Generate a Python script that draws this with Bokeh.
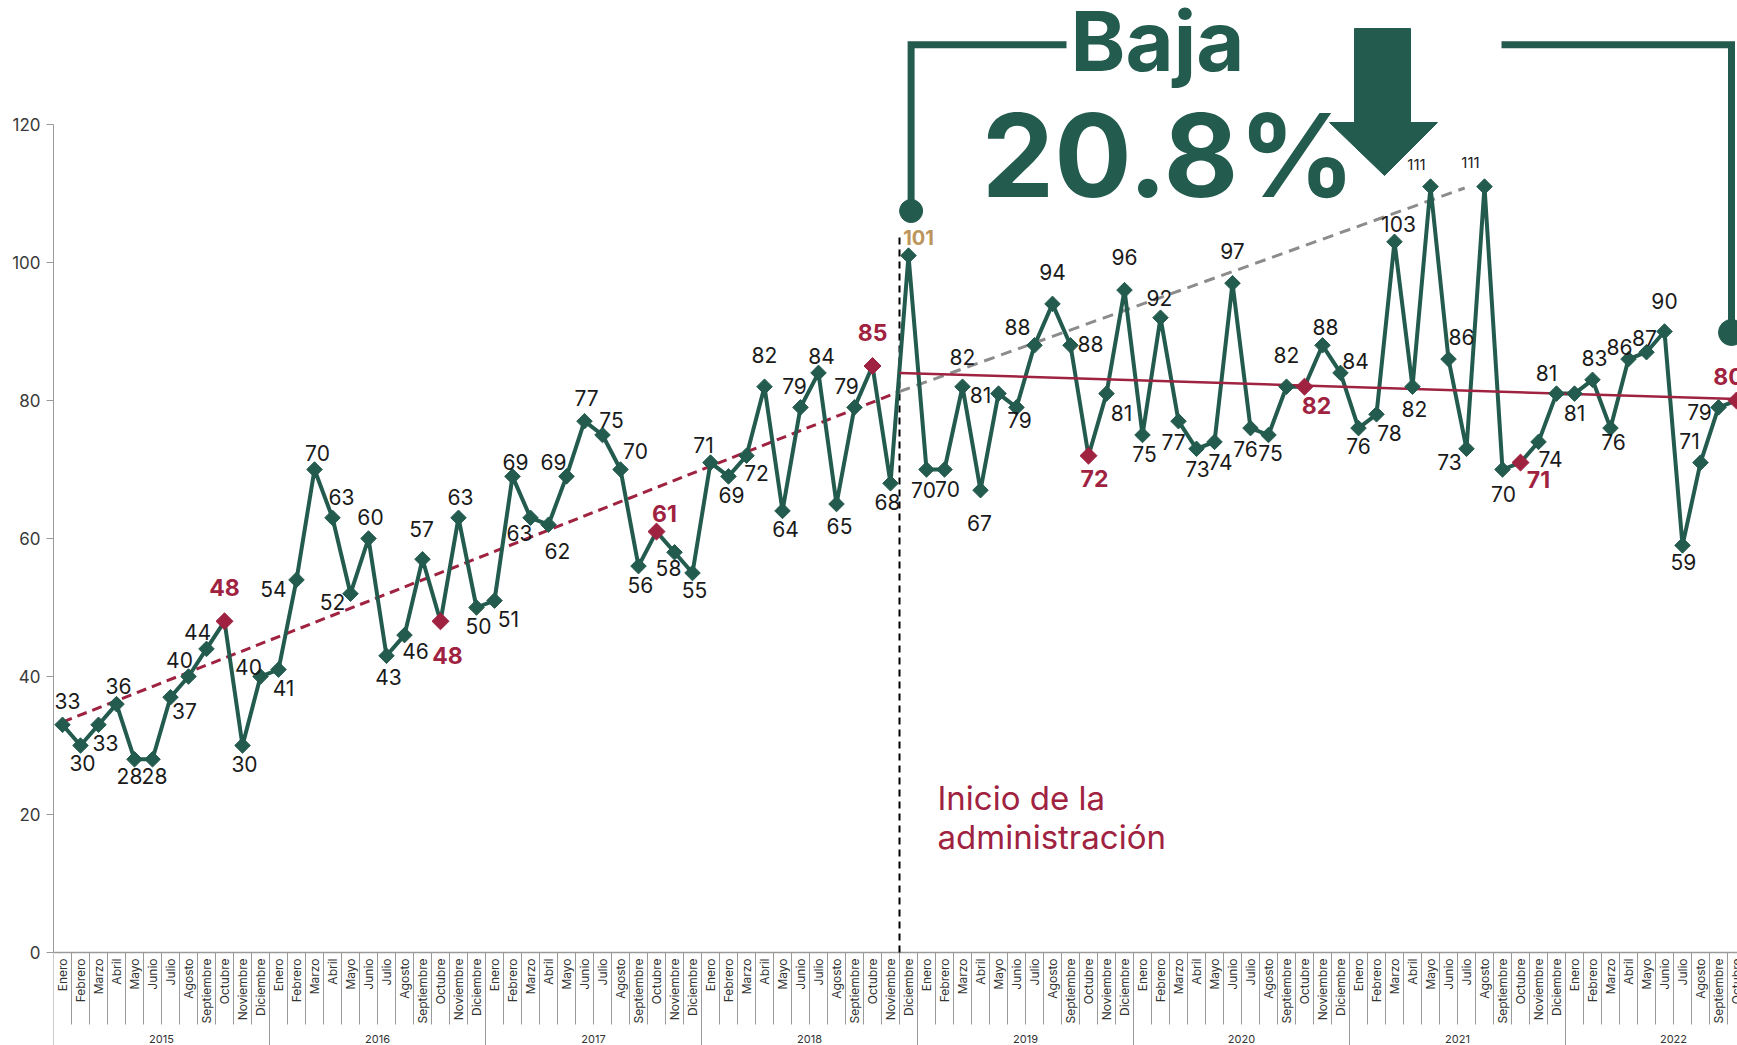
import math
from bokeh.plotting import figure
from bokeh.models import Range1d, FixedTicker
from bokeh.embed import file_html
from bokeh.resources import INLINE
from bokeh.core.properties import value

# ---------------- data ----------------
YEARS = ["2015", "2016", "2017", "2018", "2019", "2020", "2021", "2022"]
MONTHS = ["Enero", "Febrero", "Marzo", "Abril", "Mayo", "Junio", "Julio",
          "Agosto", "Septiembre", "Octubre", "Noviembre", "Diciembre"]

VALUES_2015 = [33, 30, 33, 36, 28, 28, 37, 40, 44, 48, 30, 40]
VALUES_2016 = [41, 54, 70, 63, 52, 60, 43, 46, 57, 48, 63, 50]
VALUES_2017 = [51, 69, 63, 62, 69, 77, 75, 70, 56, 61, 58, 55]
VALUES_2018 = [71, 69, 72, 82, 64, 79, 84, 65, 79, 85, 68, 101]
VALUES_2019 = [70, 70, 82, 67, 81, 79, 88, 94, 88, 72, 81, 96]
VALUES_2020 = [75, 92, 77, 73, 74, 97, 76, 75, 82, 82, 88, 84]
VALUES_2021 = [76, 78, 103, 82, 111, 86, 73, 111, 70, 71, 74, 81]
VALUES_2022 = [81, 83, 76, 86, 87, 90, 59, 71, 79, 80]

Y_TICKS = [0, 20, 40, 60, 80, 100, 120]

# trend lines (month index, value)
TREND_PRE_X = [0, 46.5]
TREND_PRE_Y = [33.4, 81.3]
TREND_PROJ_X = [46.5, 77.9]
TREND_PROJ_Y = [81.3, 110.8]
TREND_POST_X = [46.5, 93]
TREND_POST_Y = [84.0, 80.2]
ADMIN_START = 46.5          # boundary Noviembre / Diciembre 2018
ADMIN_INDEX = 47            # Diciembre 2018 (highlighted label)

ANNOT_TITLE = "Baja"
ANNOT_VALUE = "20.8%"
ANNOT_NOTE = ["Inicio de la", "administración"]

# ---------------- layout / style ----------------
GREEN = "#235B4E"
RED = "#9F2241"
GOLD = "#BC955C"
GRAY = "#8C8C8C"
TXT = "#1a1a1a"
FONT = value("Inter")

# label offsets in px (dx right, dy up) for every point
LABEL_OFFSETS = [
    (5, 24), (2, -17), (7, -18), (2, 18), (-5, -17), (2, -17), (14, -14), (-9, 17), (-9, 17), (0, 34), (2, -18), (-12, 10),
    (5, -18), (-23, -9), (3, 17), (9, 21), (-18, -8), (2, 22), (2, -21), (11, -16), (-1, 30), (7, -34), (2, 21), (2, -18),
    (14, -18), (3, 14), (-11, -15), (9, -26), (-13, 14), (2, 23), (9, 15), (15, 19), (2, -19), (8, 18), (-6, -16), (2, -17),
    (-7, 18), (3, -19), (10, -17), (0, 32), (3, -18), (-6, 21), (3, 17), (3, -22), (-8, 21), (0, 34), (-3, -19), (10, 18),
    (-3, -20), (3, -19), (0, 30), (-1, -33), (-18, -1), (3, -13), (-17, 18), (0, 32), (20, 1), (6, -23), (15, -19), (0, 33),
    (2, -19), (-1, 20), (-5, -21), (1, -20), (6, -20), (0, 32), (-5, -21), (2, -18), (0, 32), (12, -19), (3, 18), (15, 12),
    (0, -18), (13, -19), (4, 18), (2, -22), (-14, 22), (13, 22), (-17, -13), (-14, 24), (1, -24), (18, -17), (12, -17), (-10, 21),
    (0, -19), (2, 22), (3, -14), (-9, 12), (-2, 14), (0, 31), (1, -17), (-11, 22), (-19, -5), (-8, 24),
]
SMALL_LABELS = {76, 79}

# page-pixel -> data conversion
PX_MONTH = 18.0
PX_UNIT = 6.9
LEFT = 53          # frame left / left edge of Enero 2015
Y0_PAGE = 952.0    # value 0
BASE_SHIFT = 0.38  # alphabetic-baseline correction (fraction of font size)


def fx(page_x):
    return (page_x - LEFT) / PX_MONTH - 0.5


def fy(page_y):
    return (Y0_PAGE - page_y) / PX_UNIT


values = (VALUES_2015 + VALUES_2016 + VALUES_2017 + VALUES_2018 +
          VALUES_2019 + VALUES_2020 + VALUES_2021 + VALUES_2022)
n = len(values)
idx = list(range(n))
is_red = [MONTHS[i % 12] == "Octubre" for i in idx]

W, H = 1737, 1045
x_end = -0.5 + (W - LEFT) / PX_MONTH
p = figure(width=W, height=H, output_backend="svg", toolbar_location=None,
           x_range=Range1d(-0.5, x_end),
           y_range=Range1d(fy(H), fy(0)),
           min_border_left=LEFT, min_border_right=0, min_border_top=0, min_border_bottom=0,
           x_axis_location=None)
p.outline_line_color = None
p.grid.visible = False
p.background_fill_color = "white"
p.border_fill_color = "white"

ax = p.yaxis[0]
ax.ticker = FixedTicker(ticks=Y_TICKS)
ax.bounds = (0, 120)
ax.axis_line_color = "#9a9a9a"
ax.major_tick_line_color = "#9a9a9a"
ax.major_tick_in = 0
ax.major_tick_out = 7
ax.minor_tick_line_color = None
ax.major_label_text_font = "Inter"
ax.major_label_text_font_size = "17px"
ax.major_label_text_color = "#3a3a3a"
ax.major_label_standoff = 6

# ---------- category axis (manual) ----------
p.segment(x0=[-0.5], y0=[0], x1=[x_end], y1=[0], line_color="#9a9a9a", line_width=1.5)
month_bounds = [k + 0.5 for k in range(0, 94) if (k + 1) % 12 != 0]
p.segment(x0=month_bounds, y0=[0] * len(month_bounds), x1=month_bounds,
          y1=[fy(1024)] * len(month_bounds), line_color="#9a9a9a", line_width=1)
year_bounds = [12 * k - 0.5 for k in range(len(YEARS))]
p.segment(x0=year_bounds, y0=[0] * len(year_bounds), x1=year_bounds,
          y1=[fy(1045)] * len(year_bounds), line_color="#9a9a9a", line_width=1)
all_months = [MONTHS[k % 12] for k in range(12 * len(YEARS))]
p.text(x=list(range(len(all_months))), y=[fy(958)] * len(all_months), text=all_months,
       angle=math.pi / 2, text_align="right", text_baseline="middle",
       text_font=FONT, text_font_size="12px", text_color="#333333")
p.text(x=[12 * k + 5.5 for k in range(len(YEARS))], y=[fy(1038)] * len(YEARS), text=YEARS,
       text_align="center", text_baseline="middle", text_font=FONT,
       text_font_size="11px", text_color="#333333")

# ---------- admin start line ----------
p.segment(x0=[ADMIN_START], y0=[0], x1=[ADMIN_START], y1=[fy(232)],
          line_color="black", line_width=2, line_dash="7 5")

# ---------- trends ----------
p.line(TREND_PRE_X, TREND_PRE_Y, line_color=RED, line_width=3, line_dash="10 6")
p.line(TREND_PROJ_X, TREND_PROJ_Y, line_color=GRAY, line_width=3, line_dash="11 7")

# ---------- series ----------
p.line(idx, values, line_color=GREEN, line_width=4, line_join="round")
p.line(TREND_POST_X, TREND_POST_Y, line_color=RED, line_width=2.5)

gx = [i for i in idx if not is_red[i]]
p.scatter(gx, [values[i] for i in gx], marker="square", angle=math.pi / 4, size=11,
          fill_color=GREEN, line_color=GREEN)
rx = [i for i in idx if is_red[i]]
p.scatter(rx, [values[i] for i in rx], marker="square", angle=math.pi / 4, size=12,
          fill_color=RED, line_color=RED)


# ---------- value labels ----------
def add_labels(ids, color, size, style):
    if not ids:
        return
    p.text(x=[i + LABEL_OFFSETS[i][0] / PX_MONTH for i in ids],
           y=[values[i] + LABEL_OFFSETS[i][1] / PX_UNIT for i in ids],
           text=[str(values[i]) for i in ids], text_align="center", text_baseline="middle",
           text_font=FONT, text_font_size=size, text_font_style=style, text_color=color)


normal = [i for i in idx if not is_red[i] and i != ADMIN_INDEX and i not in SMALL_LABELS]
add_labels(normal, TXT, "21px", "normal")
add_labels([i for i in idx if is_red[i]], RED, "23px", "bold")
add_labels([ADMIN_INDEX], GOLD, "20px", "bold")
add_labels(sorted(SMALL_LABELS), TXT, "15px", "normal")


def big_text(page_x, page_baseline, txt, size, style, color, align):
    p.text(x=[fx(page_x)], y=[fy(page_baseline - BASE_SHIFT * size)], text=[txt],
           text_align=align, text_baseline="alphabetic", text_font=FONT,
           text_font_size=f"{size}px", text_font_style=style, text_color=color)


# ---------- note ----------
big_text(937, 810, ANNOT_NOTE[0], 33, "normal", RED, "left")
big_text(937, 849, ANNOT_NOTE[1], 33, "normal", RED, "left")

# ---------- big annotation ----------
p.line([fx(910.6), fx(910.6), fx(1066)], [fy(210.5), fy(44.3), fy(44.3)],
       line_color=GREEN, line_width=7, line_join="miter")
p.scatter([fx(910.6)], [fy(210.5)], marker="circle", size=23, fill_color=GREEN, line_color=GREEN)
p.line([fx(1501), fx(1731), fx(1731)], [fy(44.3), fy(44.3), fy(332)],
       line_color=GREEN, line_width=7, line_join="miter")
p.scatter([fx(1731)], [fy(332)], marker="circle", size=26, fill_color=GREEN, line_color=GREEN)

arrow_x = [1354, 1410, 1410, 1437, 1384, 1329, 1354]
arrow_y = [28, 28, 122, 122, 175, 122, 122]
p.patch([fx(v) for v in arrow_x], [fy(v) for v in arrow_y], fill_color=GREEN, line_color=GREEN)

big_text(1157, 72, ANNOT_TITLE, 83, "bold", GREEN, "center")
big_text(1168, 199, ANNOT_VALUE, 115, "bold", GREEN, "center")

open("out.html", "w").write(file_html(p, INLINE))
